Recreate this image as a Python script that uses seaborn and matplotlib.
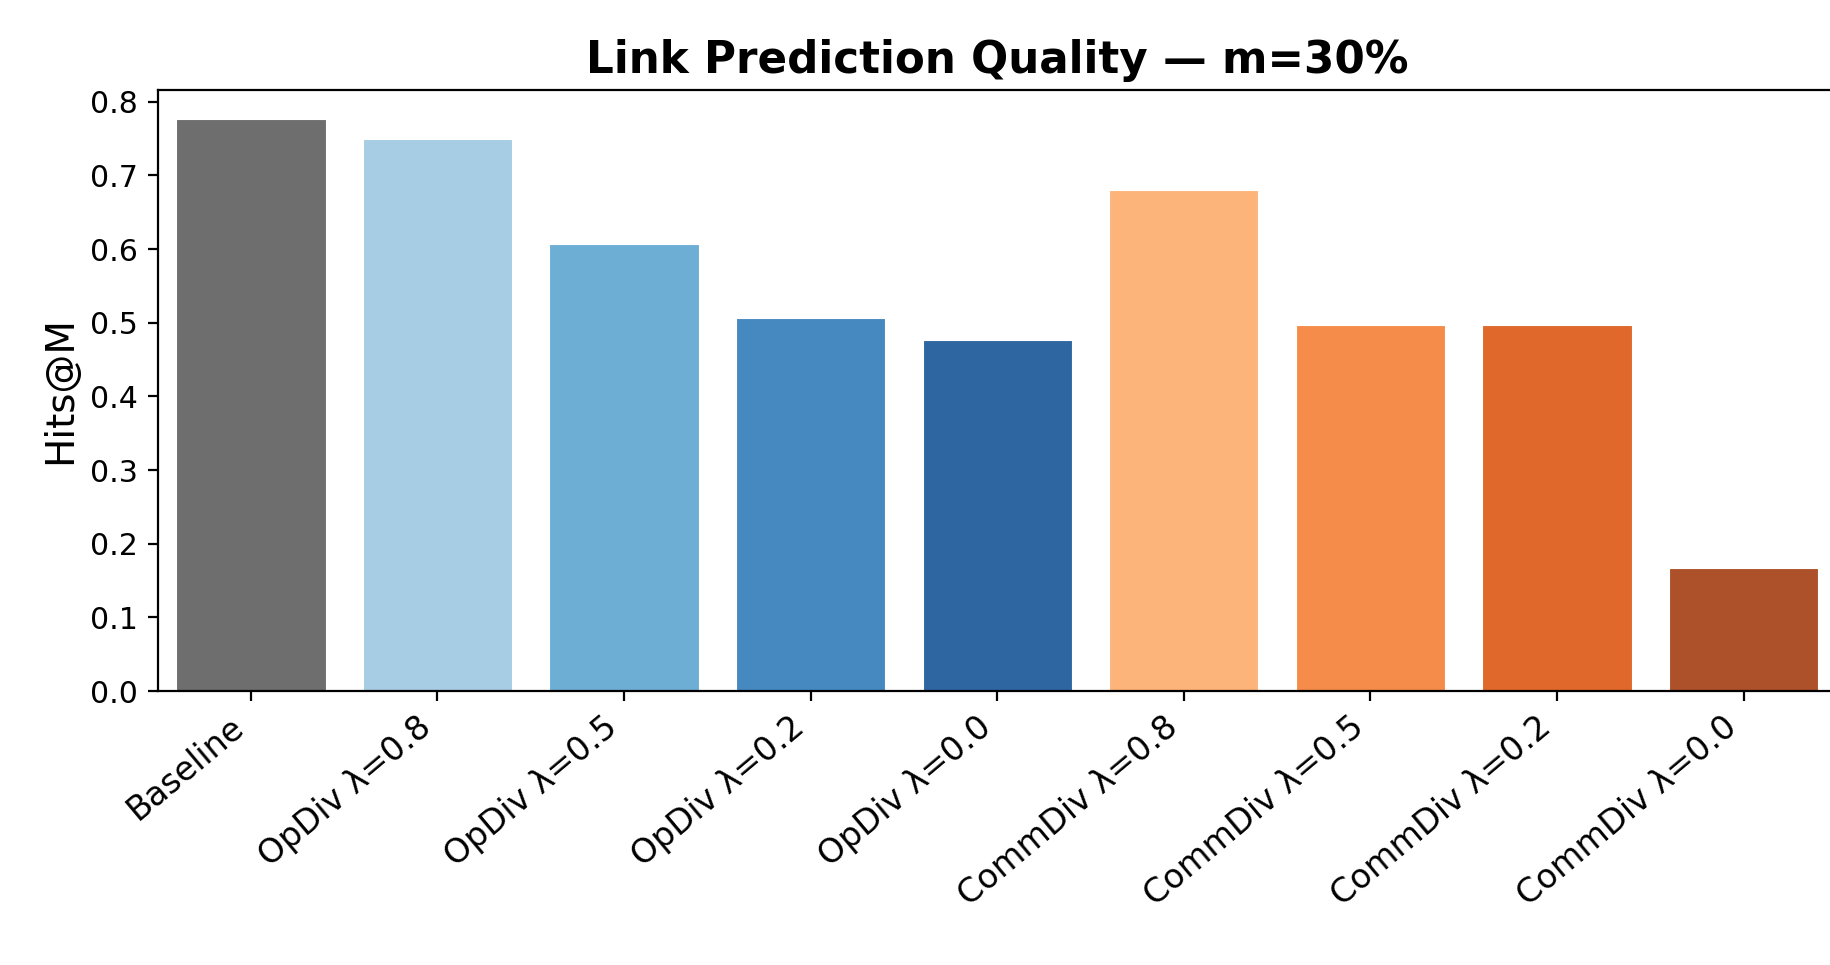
import matplotlib
matplotlib.use("Agg")
import matplotlib.pyplot as plt
import seaborn as sns
import pandas as pd

methods = [
    "Baseline",
    "OpDiv λ=0.8", "OpDiv λ=0.5", "OpDiv λ=0.2", "OpDiv λ=0.0",
    "CommDiv λ=0.8", "CommDiv λ=0.5", "CommDiv λ=0.2", "CommDiv λ=0.0",
]
hits = [0.777, 0.750, 0.607, 0.507, 0.477, 0.680, 0.497, 0.497, 0.167]
colors = [
    "#6e6e6e",
    "#a6cde3", "#6daed5", "#4689c1", "#2d66a0",
    "#fdb47a", "#f68c49", "#e0682b", "#ad512b",
]

sns.set_style("ticks")
plt.rcParams["font.family"] = ["DejaVu Sans"]
plt.rcParams["text.color"] = "black"
plt.rcParams["axes.labelcolor"] = "black"
plt.rcParams["xtick.color"] = "black"
plt.rcParams["ytick.color"] = "black"
plt.rcParams["axes.edgecolor"] = "black"

df = pd.DataFrame({"method": methods, "hits": hits})

fig = plt.figure(figsize=(9.15, 4.825), dpi=200)
ax = fig.add_axes([0.0861, 0.2839, 0.9177, 0.6228])

sns.barplot(data=df, x="method", y="hits", hue="method",
            palette=dict(zip(methods, colors)), legend=False,
            saturation=1, edgecolor="white", linewidth=0.4, width=0.8, ax=ax)

ax.set_xlim(-0.5, len(methods) - 0.5)
ax.set_title("Link Prediction Quality — m=30%", fontsize=15.7, fontweight="bold")
ax.set_ylabel("Hits@M", fontsize=14)
ax.set_xlabel("")
ax.tick_params(axis="y", labelsize=10.8)
ax.tick_params(axis="x", labelsize=12)
plt.setp(ax.get_xticklabels(), rotation=40, ha="right")
for s in ax.spines.values():
    s.set_linewidth(0.8)

fig.savefig("out.png", dpi=200)
